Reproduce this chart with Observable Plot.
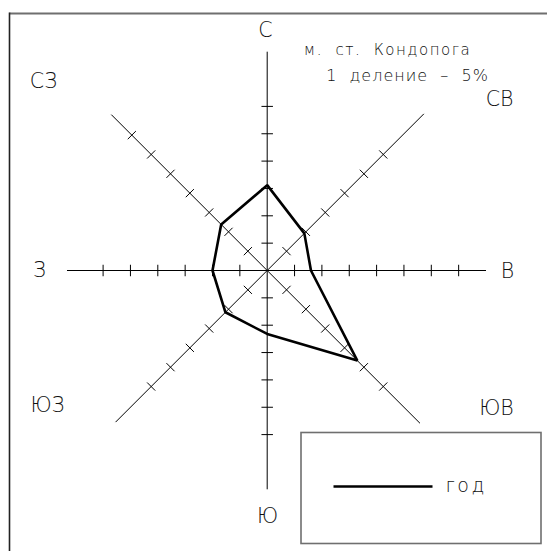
<!DOCTYPE html>
<html>
<head>
<meta charset="utf-8">
<script src="https://cdn.jsdelivr.net/npm/d3@7"></script>
<script src="https://cdn.jsdelivr.net/npm/@observablehq/plot@0.6"></script>
<style>
  html, body { margin: 0; padding: 0; background: #fff; }
  svg { display: block; }
</style>
</head>
<body>
<script>
// ---- data ----
const directions = ["С", "СВ", "В", "ЮВ", "Ю", "ЮЗ", "З", "СЗ"];
const bearings = [0, 45, 90, 135, 180, 225, 270, 315];
const yearPercent = [15.6, 9.6, 8.0, 23.3, 11.6, 10.8, 10.0, 11.9];
const tickCounts = [6, 6, 7, 6, 6, 6, 6, 7];
const axisLengthPercent = [40, 40.5, 40, 39.5, 40, 39.2, 36.6, 40.3];
const divisionPercent = 5;
const stationTitle = "м.  ст.  Кондопога";
const scaleNote = "1  деление  –  5%";
const seriesName = "год";

// ---- layout (pixels) ----
const W = 547, H = 551;
const CX = 266.7, CY = 270, K = 5.47; // centre and px per percent
const ux = px => (px - CX) / K;
const uy = py => (CY - py) / K;
const labelPx = [[265, 30], [499, 99], [507, 271], [496, 408], [267, 516], [47, 405], [39, 270], [43, 81]];
const tickHalf = 1.05;
const spacing = {[stationTitle]: "1.5px", [scaleNote]: "1px", [seriesName]: "2.5px"};

const rad = b => b * Math.PI / 180;
const polar = (b, r) => ({x: r * Math.sin(rad(b)), y: r * Math.cos(rad(b))});

const axes = bearings.map((b, i) => {
  const e = polar(b, axisLengthPercent[i]);
  return {x1: 0, y1: 0, x2: e.x, y2: e.y};
});
const ticks = [];
bearings.forEach((b, i) => {
  for (let k = 1; k <= tickCounts[i]; k++) {
    const c = polar(b, k * divisionPercent);
    const px = Math.cos(rad(b)), py = -Math.sin(rad(b)); // perpendicular
    ticks.push({x1: c.x - px * tickHalf, y1: c.y - py * tickHalf, x2: c.x + px * tickHalf, y2: c.y + py * tickHalf});
  }
});
const rose = bearings.map((b, i) => ({...polar(b, yearPercent[i]), dir: directions[i]}));
const labels = directions.map((d, i) => ({text: d, x: ux(labelPx[i][0]), y: uy(labelPx[i][1])}));

const font = "'DejaVu Sans', 'Liberation Sans', sans-serif";

const chart = Plot.plot({
  width: W, height: H,
  margin: 0,
  x: {domain: [ux(0), ux(W)], axis: null},
  y: {domain: [uy(H), uy(0)], axis: null},
  style: {background: "#fff", fontFamily: font},
  marks: [
    // outer frame (top and left edges)
    Plot.link([{x1: ux(9), y1: uy(13), x2: ux(W), y2: uy(13)}], {x1: "x1", y1: "y1", x2: "x2", y2: "y2", stroke: "#6f6f6f", strokeWidth: 2}),
    Plot.link([{x1: ux(9), y1: uy(12), x2: ux(9), y2: uy(H)}], {x1: "x1", y1: "y1", x2: "x2", y2: "y2", stroke: "#222", strokeWidth: 1.6}),
    // axes
    Plot.link(axes, {x1: "x1", y1: "y1", x2: "x2", y2: "y2", stroke: "#000", strokeWidth: 1}),
    Plot.link(ticks, {x1: "x1", y1: "y1", x2: "x2", y2: "y2", stroke: "#000", strokeWidth: 1}),
    // rose polygon
    Plot.line(rose, {x: "x", y: "y", curve: "linear-closed", stroke: "#000", strokeWidth: 2.6, strokeLinejoin: "miter"}),
    // direction labels
    Plot.text(labels, {x: "x", y: "y", text: "text", fontSize: 20.5, fill: "#111", fontWeight: 200}),
    // titles
    Plot.text([stationTitle], {x: ux(387), y: uy(50), text: d => d, fontSize: 15, fill: "#111", fontWeight: 200}),
    Plot.text([scaleNote], {x: ux(407), y: uy(75), text: d => d, fontSize: 16, fill: "#111", fontWeight: 200}),
    // legend box
    Plot.rect([0], {x1: ux(301), x2: ux(541), y1: uy(432.5), y2: uy(543.5), fill: "none", stroke: "#6f6f6f", strokeWidth: 1.6}),
    Plot.link([0], {x1: ux(333), x2: ux(432), y1: uy(486), y2: uy(486), stroke: "#000", strokeWidth: 2.4}),
    Plot.text([seriesName], {x: ux(445), y: uy(485), text: d => d, textAnchor: "start", fontSize: 19, fill: "#111", fontWeight: 200})
  ]
});
d3.select(chart).selectAll("text").each(function() {
  const s = spacing[this.textContent];
  if (s) this.setAttribute("letter-spacing", s);
});
document.body.appendChild(chart);
</script>
</body>
</html>
